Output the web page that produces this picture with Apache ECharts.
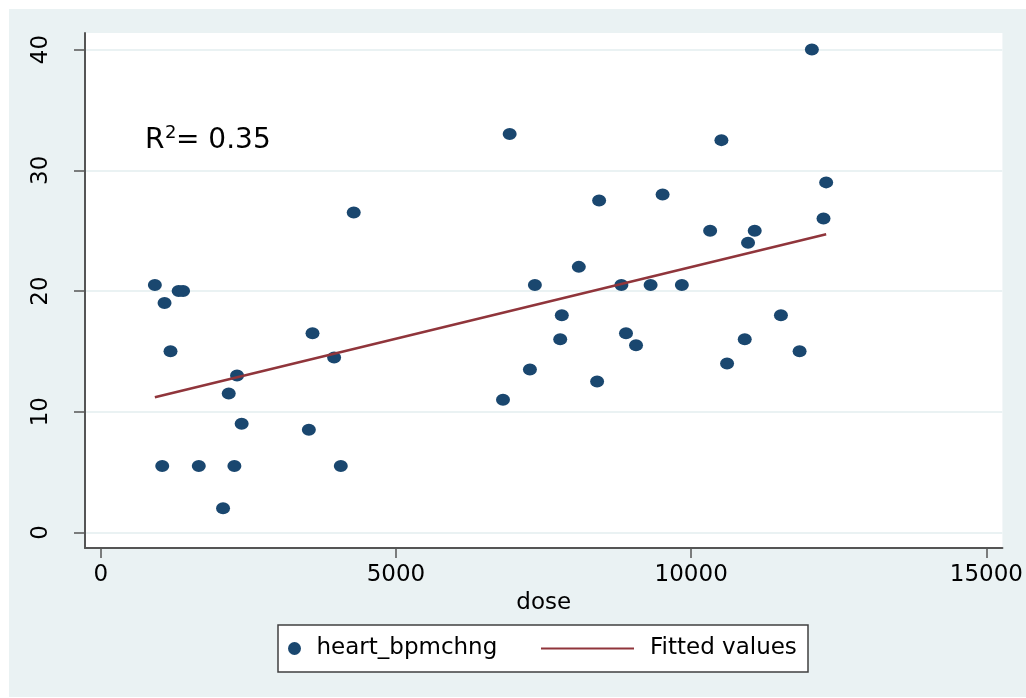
<!DOCTYPE html>
<html>
<head>
<meta charset="utf-8">
<script src="https://cdn.jsdelivr.net/npm/echarts@6/dist/echarts.min.js"></script>
<style>
html,body{margin:0;padding:0;background:#fff;}
#bg{position:absolute;left:9px;top:9px;width:1017px;height:688px;background:#eaf2f3;}
#chart{position:absolute;left:0;top:0;width:1026px;height:698px;}
</style>
</head>
<body>
<div id="bg"></div>
<div id="chart"></div>
<script>
// ---- data ----
const doseVals = [917, 1320, 1395, 1081, 1182, 2309, 2168, 2387, 1042, 1661, 2264, 2072,
  4285, 3587, 3953, 3525, 4066,
  6926, 10512, 8441, 9516, 10321, 8097, 7353, 8818, 9313, 9842, 7809, 7782, 8896, 9066, 7269, 8407, 6813, 10608,
  12044, 12286, 12241, 11076, 10963, 11520, 10907, 11836];
const bpmVals = [20.5, 20, 20, 19, 15, 13, 11.5, 9, 5.5, 5.5, 5.5, 2,
  26.5, 16.5, 14.5, 8.5, 5.5,
  33, 32.5, 27.5, 28, 25, 22, 20.5, 20.5, 20.5, 20.5, 18, 16, 16.5, 15.5, 13.5, 12.5, 11, 14,
  40, 29, 26, 25, 24, 18, 16, 15];
const fitX = [917, 12286];
const fitY = [11.2, 24.7];
const xTicks = [0, 5000, 10000, 15000];
const yTicks = [0, 10, 20, 30, 40];
const scatterName = 'heart_bpmchng';
const lineName = 'Fitted values';
const xName = 'dose';
const r2Value = '0.35';

const FONT = 'DejaVu Sans';
const FS = 23;
const axisColor = '#555555';

const chart = echarts.init(document.getElementById('chart'), null, {renderer: 'canvas'});
const option = {
  animation: false,
  textStyle: {fontFamily: FONT},
  grid: {left: 85, right: 23, top: 33, bottom: 150, show: true, backgroundColor: '#ffffff', borderWidth: 0},
  xAxis: {
    type: 'value', min: -266, max: 15271,
    name: xName, nameLocation: 'middle', nameGap: 39,
    nameTextStyle: {fontFamily: FONT, fontSize: FS, color: '#000'},
    axisLine: {show: true, onZero: false, lineStyle: {color: axisColor, width: 2}},
    axisTick: {show: true, customValues: xTicks, length: 10, lineStyle: {color: axisColor, width: 1.5}},
    axisLabel: {customValues: xTicks, margin: 16, fontFamily: FONT, fontSize: FS, color: '#000',
      formatter: v => String(v)},
    splitLine: {show: false}
  },
  yAxis: {
    type: 'value', min: -1.29, max: 41.375,
    axisLine: {show: true, onZero: false, lineStyle: {color: axisColor, width: 2}},
    axisTick: {show: true, customValues: yTicks, length: 11, lineStyle: {color: axisColor, width: 1.5}},
    axisLabel: {customValues: yTicks, rotate: 90, margin: 32, fontFamily: FONT, fontSize: FS, color: '#000',
      formatter: v => String(v)},
    splitLine: {show: true, lineStyle: {color: '#eaf2f3', width: 2}}
  },
  legend: [
    {
      data: [scatterName], left: 288, top: 637, padding: 0,
      itemWidth: 34, itemHeight: 13,
      textStyle: {fontFamily: FONT, fontSize: FS, color: '#000'}
    },
    {
      data: [{name: lineName, icon: 'rect'}], left: 541, top: 637, padding: 0,
      itemWidth: 93, itemHeight: 2,
      textStyle: {fontFamily: FONT, fontSize: FS, color: '#000', padding: [0, 0, 0, 11]}
    }
  ],
  graphic: [
    {type: 'rect', z: 0, shape: {x: 278, y: 625, width: 530, height: 47},
     style: {fill: '#ffffff', stroke: '#404040', lineWidth: 1.5}},
    {type: 'text', z: 100, style: {text: 'R', x: 145, y: 141, font: '28px "DejaVu Sans"', fill: '#000', verticalAlign: 'middle', align: 'left'}},
    {type: 'text', z: 100, style: {text: '2', x: 165, y: 133, font: '18px "DejaVu Sans"', fill: '#000', verticalAlign: 'middle', align: 'left'}},
    {type: 'text', z: 100, style: {text: '= ' + r2Value, x: 176, y: 141, font: '28px "DejaVu Sans"', fill: '#000', verticalAlign: 'middle', align: 'left'}}
  ],
  series: [
    {
      name: scatterName, type: 'scatter',
      data: doseVals.map((d, i) => [d, bpmVals[i]]),
      symbol: 'circle', symbolSize: [14, 12],
      itemStyle: {color: '#1a476f', opacity: 1},
      z: 3
    },
    {
      name: lineName, type: 'line',
      data: fitX.map((d, i) => [d, fitY[i]]),
      symbol: 'none', showSymbol: false,
      lineStyle: {color: '#90353b', width: 2.5},
      itemStyle: {color: '#90353b'},
      z: 4
    }
  ]
};
chart.setOption(option);
</script>
</body>
</html>
